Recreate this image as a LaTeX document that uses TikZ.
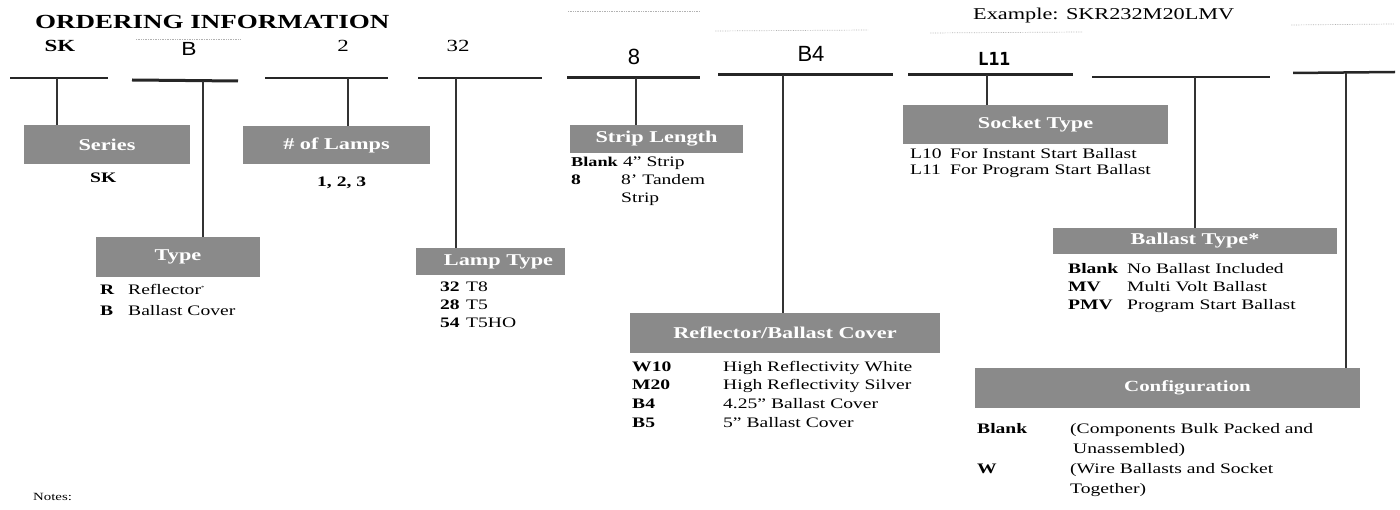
\documentclass[tikz,border=0pt]{standalone}
\usepackage{fontspec}
\setmainfont{Liberation Serif}[FakeStretch=1.35]
\newfontfamily\codesans{Liberation Sans}[FakeStretch=1.2]
\newfontfamily\plainsans{Liberation Sans}
\newfontfamily\codemono{DejaVu Sans Mono}
\usetikzlibrary{calc}
\definecolor{boxgray}{RGB}{138,138,138}
\tikzset{
	seg/.style={line width=2pt, black!85},
	tapline/.style={line width=1.1pt, black!80},
	scanline/.style={line width=0.7pt, black!30, densely dotted},
	fieldbox/.style={fill=boxgray, text=white, inner sep=0pt, font=\fontsize{16.5}{16.5}\selectfont\bfseries},
	codetxt/.style={anchor=base west, inner sep=0pt, font=\fontsize{14.5}{17}\selectfont\bfseries},
	desctxt/.style={anchor=base west, inner sep=0pt, font=\fontsize{14.5}{17}\selectfont},
	partno/.style={anchor=base, inner sep=0pt},
}

\begin{document}
\begin{tikzpicture}[x=1pt, y=-1pt]
		%%%%% START %%%%%
		\useasboundingbox (0, 0) rectangle (1400, 510);
		
		\node[anchor=base west, inner sep=0pt, font=\fontsize{20}{20}\selectfont\bfseries] (title) at (35, 29) {ORDERING INFORMATION};
		\node[anchor=base west, inner sep=0pt, font=\fontsize{16.5}{16.5}\selectfont] (example) at (973, 20) {Example: SKR232M20LMV};
		\node[anchor=base west, inner sep=0pt, font=\fontsize{11}{11}\selectfont] (notes) at (33, 500) {Notes:};
		
		\draw[scanline] (136, 39) -- (240, 39);
		\draw[scanline] (568, 11) -- (700, 11);
		\draw[scanline] (715, 31) -- (868, 30);
		\draw[scanline] (930, 33) -- (1082, 32);
		\draw[scanline] (1291, 25) -- (1394, 24);
		
		% part number fields
		\node[partno, font=\fontsize{17}{17}\selectfont\bfseries] (pSK) at (60, 52) {SK};
		\node[partno, font=\fontsize{19}{19}\codesans] (pB) at (189, 56) {B};
		\node[partno, font=\fontsize{17}{17}\selectfont] (p2) at (343, 52) {2};
		\node[partno, font=\fontsize{17}{17}\selectfont] (p32) at (458, 52) {32};
		\node[partno, font=\fontsize{22}{22}\plainsans] (p8) at (634, 65) {8};
		\node[partno, font=\fontsize{22}{22}\plainsans] (pB4) at (811, 62) {B4};
		\node[partno, font=\fontsize{18}{18}\codemono\bfseries] (pL11) at (994, 66) {L11};
		
		\draw[seg] (10, 78) -- (108, 78);
		\draw[seg, line width=3pt] (132, 80) -- (238, 81);
		\draw[seg] (265, 78) -- (388, 78);
		\draw[seg] (418, 78) -- (542, 78);
		\draw[seg, line width=3pt] (567, 78) -- (700, 78);
		\draw[seg, line width=3.5pt] (718, 74.5) -- (893, 74.5);
		\draw[seg, line width=3pt] (908, 75) -- (1073, 75);
		\draw[seg] (1092, 77) -- (1270, 77);
		\draw[seg, line width=2.5pt] (1293, 73) -- (1395, 72);
		
		\coordinate (tSK) at (57, 78);
		\coordinate (tB) at (203, 81);
		\coordinate (t2) at (348, 78);
		\coordinate (t32) at (456, 78);
		\coordinate (t8) at (636, 78);
		\coordinate (tB4) at (783, 75);
		\coordinate (tL11) at (987, 75);
		\coordinate (tBal) at (1195, 77);
		\coordinate (tCfg) at (1346, 73);
		
		% heading boxes
		\node[fieldbox, minimum width=166pt, minimum height=39pt] (series) at (107, 144.5) {Series};
		\node[fieldbox, minimum width=187pt, minimum height=38pt] (lamps) at (336.5, 145) {\# of Lamps};
		\node[fieldbox, minimum width=164pt, minimum height=40pt] (type) at (178, 257) {Type};
		\node[fieldbox, minimum width=149pt, minimum height=27pt] (lamptype) at (490.5, 261.5) {\hspace*{16pt}Lamp Type};
		\node[fieldbox, minimum width=173pt, minimum height=28pt] (strip) at (656.5, 139) {Strip Length};
		\node[fieldbox, minimum width=310pt, minimum height=40pt] (cover) at (785, 333) {Reflector/Ballast Cover};
		\node[fieldbox, minimum width=265pt, minimum height=39pt] (socket) at (1035.5, 124.5) {Socket Type};
		\node[fieldbox, minimum width=284pt, minimum height=26pt] (ballast) at (1195, 241) {Ballast Type*};
		\node[fieldbox, minimum width=385pt, minimum height=40pt, font=\fontsize{15.5}{15.5}\selectfont\bfseries] (config) at (1167.5, 388) {\hspace*{40pt}Configuration};
		
		\draw[tapline] (tSK) -- (tSK |- series.north);
		\draw[tapline] (tB) -- (tB |- type.north);
		\draw[tapline] (t2) -- (t2 |- lamps.north);
		\draw[tapline] (t32) -- (t32 |- lamptype.north);
		\draw[tapline] (t8) -- (t8 |- strip.north);
		\draw[tapline] (tB4) -- (tB4 |- cover.north);
		\draw[tapline] (tL11) -- (tL11 |- socket.north);
		\draw[tapline] (tBal) -- (tBal |- ballast.north);
		\draw[tapline] (tCfg) -- (tCfg |- config.north);
		
		% option lists
		\node[codetxt] (sk1) at (90, 183) {SK};
		\node[codetxt] (lamps1) at (317, 187) {1, 2, 3};
		
		\node[codetxt] (typeR) at (100, 295) {R};
		\node[desctxt] (typeRd) at (128, 295) {Reflector\textsuperscript{\tiny*}};
		\node[codetxt] (typeB) at (100, 316) {B};
		\node[desctxt] (typeBd) at (128, 316) {Ballast Cover};
		
		\node[codetxt] (lt32) at (440, 292) {32};
		\node[desctxt] (lt32d) at (466, 292) {T8};
		\node[codetxt] (lt28) at (440, 310) {28};
		\node[desctxt] (lt28d) at (466, 310) {T5};
		\node[codetxt] (lt54) at (440, 328) {54};
		\node[desctxt] (lt54d) at (466, 328) {T5HO};
		
		\node[codetxt, font=\fontsize{13.5}{17}\selectfont\bfseries] (stBlank) at (571, 167) {Blank};
		\node[desctxt] (stBlankd) at (623, 167) {4" Strip};
		\node[codetxt] (st8) at (571, 185) {8};
		\node[desctxt] (st8d) at (621, 185) {8' Tandem};
		\node[desctxt] (st8e) at (621, 203) {Strip};
		
		\node[codetxt] (cvW10) at (632, 372) {W10};
		\node[desctxt] (cvW10d) at (723, 372) {High Reflectivity White};
		\node[codetxt] (cvM20) at (632, 390) {M20};
		\node[desctxt] (cvM20d) at (723, 390) {High Reflectivity Silver};
		\node[codetxt] (cvB4) at (632, 408) {B4};
		\node[desctxt] (cvB4d) at (723, 408) {4.25" Ballast Cover};
		\node[codetxt] (cvB5) at (632, 427) {B5};
		\node[desctxt] (cvB5d) at (723, 427) {5" Ballast Cover};
		
		\node[desctxt] (soL10) at (910, 159) {L10};
		\node[desctxt] (soL10d) at (950, 159) {For Instant Start Ballast};
		\node[desctxt] (soL11) at (910, 175) {L11};
		\node[desctxt] (soL11d) at (950, 175) {For Program Start Ballast};
		
		\node[codetxt] (baBlank) at (1068, 274) {Blank};
		\node[desctxt] (baBlankd) at (1127, 274) {No Ballast Included};
		\node[codetxt] (baMV) at (1068, 292) {MV};
		\node[desctxt] (baMVd) at (1127, 292) {Multi Volt Ballast};
		\node[codetxt] (baPMV) at (1068, 310) {PMV};
		\node[desctxt] (baPMVd) at (1127, 310) {Program Start Ballast};
		
		\node[codetxt] (cfBlank) at (977, 433) {Blank};
		\node[desctxt] (cfBlankd) at (1070, 433) {(Components Bulk Packed and};
		\node[desctxt] (cfBlanke) at (1073, 453) {Unassembled)};
		\node[codetxt] (cfW) at (977, 473) {W};
		\node[desctxt] (cfWd) at (1070, 473) {(Wire Ballasts and Socket};
		\node[desctxt] (cfWe) at (1070, 493) {Together)};
		%%%%% END %%%%%
	\end{tikzpicture}
\end{document}
